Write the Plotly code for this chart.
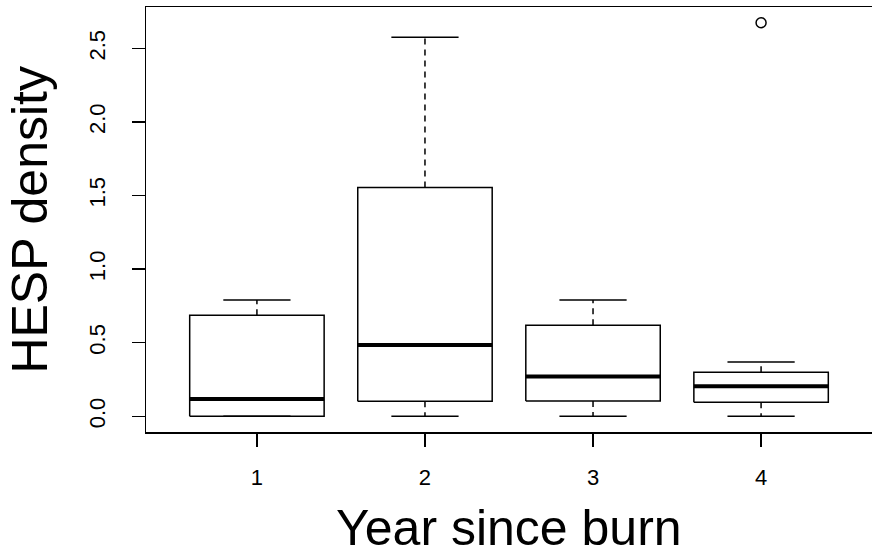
import plotly.graph_objects as go

# ---- data ----
years = [1, 2, 3, 4]
year_labels = ["1", "2", "3", "4"]
lower_whisker = [0.0, 0.0, 0.0, 0.0]
q1 = [0.0, 0.102, 0.104, 0.095]
median = [0.118, 0.484, 0.270, 0.204]
q3 = [0.686, 1.555, 0.618, 0.300]
upper_whisker = [0.790, 2.577, 0.790, 0.368]
outlier_year = [4]
outlier_value = [2.675]
y_ticks = [0.0, 0.5, 1.0, 1.5, 2.0, 2.5]
y_tick_labels = ["0.0", "0.5", "1.0", "1.5", "2.0", "2.5"]

BOX_HALF = 0.4      # R boxwex 0.8
STAPLE_HALF = 0.2   # staplewex 0.5
FONT = "Liberation Sans, Arial, Helvetica, sans-serif"

box_x, box_y = [], []
med_x, med_y = [], []
wh_x, wh_y = [], []
st_x, st_y = [], []
for i, yr in enumerate(years):
    l, r = yr - BOX_HALF, yr + BOX_HALF
    box_x += [l, r, r, l, l, None]
    box_y += [q1[i], q1[i], q3[i], q3[i], q1[i], None]
    med_x += [l, r, None]
    med_y += [median[i], median[i], None]
    wh_x += [yr, yr, None, yr, yr, None]
    wh_y += [q3[i], upper_whisker[i], None, q1[i], lower_whisker[i], None]
    st_x += [yr - STAPLE_HALF, yr + STAPLE_HALF, None, yr - STAPLE_HALF, yr + STAPLE_HALF, None]
    st_y += [upper_whisker[i], upper_whisker[i], None, lower_whisker[i], lower_whisker[i], None]

fig = go.Figure()
fig.add_trace(go.Scatter(x=wh_x, y=wh_y, mode="lines",
                         line=dict(color="black", width=1.5, dash="6px,5px"),
                         hoverinfo="skip", showlegend=False))
fig.add_trace(go.Scatter(x=st_x, y=st_y, mode="lines",
                         line=dict(color="black", width=1.5),
                         hoverinfo="skip", showlegend=False))
fig.add_trace(go.Scatter(x=box_x, y=box_y, mode="lines",
                         line=dict(color="black", width=1.5),
                         hoverinfo="skip", showlegend=False))
fig.add_trace(go.Scatter(x=med_x, y=med_y, mode="lines",
                         line=dict(color="black", width=4),
                         hoverinfo="skip", showlegend=False))
fig.add_trace(go.Scatter(x=outlier_year, y=outlier_value, mode="markers",
                         marker=dict(symbol="circle-open", size=10,
                                     color="black", line=dict(width=1.5)),
                         showlegend=False))

fig.update_layout(
    width=872, height=552,
    margin=dict(l=146, r=0, t=7, b=120),
    paper_bgcolor="white", plot_bgcolor="white",
    font=dict(family=FONT, color="black"),
    showlegend=False,
    xaxis=dict(range=[0.34, 4.66], tickmode="array", tickvals=years,
               ticktext=year_labels, ticks="outside", ticklen=13,
               tickwidth=1.3, tickcolor="black", showgrid=False,
               zeroline=False, showline=True, linecolor="black",
               linewidth=1.5, mirror=True,
               tickfont=dict(size=22, family=FONT), ticklabelstandoff=12),
    yaxis=dict(range=[-0.107, 2.782], tickmode="array", tickvals=y_ticks,
               ticktext=y_tick_labels, tickangle=-90, ticks="outside",
               ticklen=13, tickwidth=1.3, tickcolor="black", showgrid=False,
               zeroline=False, showline=True, linecolor="black",
               linewidth=1.5, tickfont=dict(size=22, family=FONT),
               ticklabelstandoff=18),
    annotations=[
        dict(text="Year since burn", xref="paper", yref="paper",
             x=0.5, y=-0.225, xanchor="center", yanchor="middle",
             showarrow=False, font=dict(size=50, family=FONT)),
        dict(text="HESP density", xref="paper", yref="paper",
             x=-0.161, y=0.5, xanchor="center", yanchor="middle",
             textangle=-90, showarrow=False, font=dict(size=50, family=FONT)),
    ],
)

fig.write_html(
    "out.html",
    config={"displayModeBar": False, "staticPlot": True},
    post_script="document.body.style.margin='0';document.body.style.overflow='hidden';",
)
